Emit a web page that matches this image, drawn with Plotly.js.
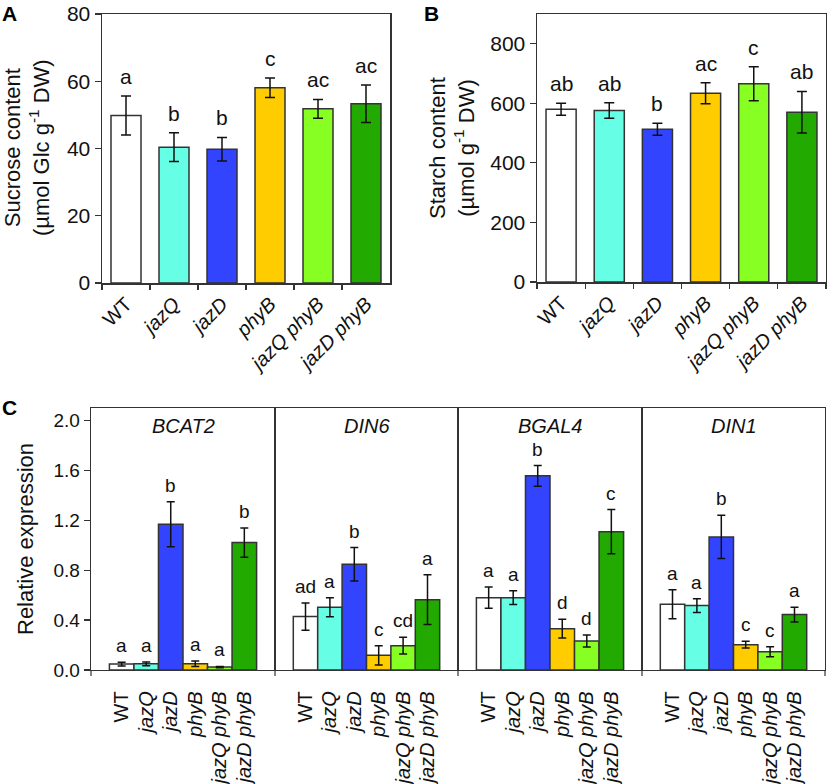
<!DOCTYPE html>
<html>
<head>
<meta charset="utf-8">
<script src="https://cdn.plot.ly/plotly-3.0.1.min.js"></script>
<style>
  body { margin: 0; background: #fff; }
  #chart { width: 827px; height: 784px; }
</style>
</head>
<body>
<div id="chart"></div>
<script>
// genotypes and colours shared by every panel
const genotypes = ['WT', 'jazQ', 'jazD', 'phyB', 'jazQ phyB', 'jazD phyB'];
const genotypeLabels = ['WT', '<i>jazQ</i>', '<i>jazD</i>', '<i>phyB</i>', '<i>jazQ phyB</i>', '<i>jazD phyB</i>'];
const barColors = ['#ffffff', '#66ffe6', '#3344ff', '#ffcc00', '#88ff22', '#22aa00'];

// A: sucrose
const sucrose = [49.8, 40.4, 39.8, 58.1, 51.8, 53.3];
const sucroseErr = [5.8, 4.3, 3.5, 2.9, 2.8, 5.6];
const sucroseLetters = ['a', 'b', 'b', 'c', 'ac', 'ac'];

// B: starch
const starch = [580, 576, 513, 634, 666, 570];
const starchErr = [20, 26, 20, 35, 57, 70];
const starchLetters = ['ab', 'ab', 'b', 'ac', 'c', 'ab'];

// C: relative expression
const genes = ['BCAT2', 'DIN6', 'BGAL4', 'DIN1'];
const bcat2 = [0.048, 0.05, 1.168, 0.05, 0.024, 1.021];
const bcat2Err = [0.015, 0.015, 0.18, 0.022, 0.005, 0.118];
const bcat2Letters = ['a', 'a', 'b', 'a', 'a', 'b'];
const din6 = [0.428, 0.503, 0.847, 0.118, 0.195, 0.564];
const din6Err = [0.11, 0.077, 0.134, 0.077, 0.067, 0.2];
const din6Letters = ['ad', 'a', 'b', 'c', 'cd', 'a'];
const bgal4 = [0.58, 0.58, 1.556, 0.331, 0.233, 1.109];
const bgal4Err = [0.086, 0.056, 0.083, 0.075, 0.048, 0.177];
const bgal4Letters = ['a', 'a', 'b', 'd', 'd', 'c'];
const din1 = [0.527, 0.516, 1.067, 0.203, 0.147, 0.444];
const din1Err = [0.117, 0.056, 0.173, 0.027, 0.04, 0.059];
const din1Letters = ['a', 'a', 'b', 'c', 'c', 'a'];

const FONT = 'Liberation Sans, Arial, sans-serif';
const LINE = '#333333';

function barTrace(vals, errs, xa, ya, width, capw) {
  return {
    type: 'bar', x: genotypes, y: vals, xaxis: xa, yaxis: ya, width: width,
    marker: { color: barColors, line: { color: LINE, width: 1.5 } },
    error_y: { type: 'data', array: errs, visible: true, color: '#111', thickness: 1.5, width: capw },
    hoverinfo: 'skip', showlegend: false
  };
}

// significance letters sit just above each error bar
function letterNotes(vals, errs, letters, xa, ya, size, shift) {
  return letters.map((t, i) => ({
    xref: xa, yref: ya, x: genotypes[i], y: vals[i] + errs[i],
    text: t, showarrow: false, xanchor: 'center', yanchor: 'bottom', yshift: shift,
    font: { family: FONT, size: size, color: '#111' }
  }));
}

const exprVals = [bcat2, din6, bgal4, din1];
const exprErrs = [bcat2Err, din6Err, bgal4Err, din1Err];
const exprLetters = [bcat2Letters, din6Letters, bgal4Letters, din1Letters];

const traces = [
  barTrace(sucrose, sucroseErr, 'x', 'y', 0.625, 5),
  barTrace(starch, starchErr, 'x2', 'y2', 0.625, 5)
];
let notes = letterNotes(sucrose, sucroseErr, sucroseLetters, 'x', 'y', 21, 6)
  .concat(letterNotes(starch, starchErr, starchLetters, 'x2', 'y2', 21, 6));
genes.forEach((g, i) => {
  const xa = 'x' + (i + 3), ya = 'y' + (i + 3);
  traces.push(barTrace(exprVals[i], exprErrs[i], xa, ya, 1, 4));
  notes = notes.concat(letterNotes(exprVals[i], exprErrs[i], exprLetters[i], xa, ya, 19, 4));
});

const W = 827, H = 784;
const px = v => v / W, py = v => 1 - v / H;

const catAxis = (domain, anchor) => ({
  domain: domain, anchor: anchor, type: 'category',
  showline: true, mirror: true, linecolor: LINE, linewidth: 1.5,
  ticks: 'outside', tickson: 'boundaries', ticklen: 5, tickcolor: LINE, tickwidth: 1.2,
  tickvals: genotypes, ticktext: genotypeLabels, tickangle: -45,
  tickfont: { family: FONT, size: 20, color: '#111' },
  showgrid: false, zeroline: false, automargin: false
});

const valAxis = (domain, anchor, range, vals) => ({
  domain: domain, anchor: anchor, range: range, tickvals: vals,
  showline: true, mirror: true, linecolor: LINE, linewidth: 1.5,
  ticks: 'outside', ticklen: 6, tickcolor: LINE, tickwidth: 1.2,
  tickfont: { family: FONT, size: 21, color: '#111' },
  showgrid: false, zeroline: false, automargin: false
});

const layout = {
  width: W, height: H,
  margin: { l: 0, r: 0, t: 0, b: 0 },
  paper_bgcolor: '#fff', plot_bgcolor: '#fff',
  font: { family: FONT, color: '#111' },
  showlegend: false,
  xaxis: catAxis([px(102), px(390)], 'y'),
  yaxis: valAxis([py(283), py(14)], 'x', [0, 80], [0, 20, 40, 60, 80]),
  xaxis2: catAxis([px(537), px(826)], 'y2'),
  yaxis2: valAxis([py(282), py(14)], 'x2', [0, 900], [0, 200, 400, 600, 800]),
  annotations: notes,
  shapes: []
};

const cEdges = [91, 275, 458, 642, 825];
genes.forEach((g, i) => {
  const n = i + 3;
  layout['xaxis' + n] = {
    domain: [px(cEdges[i]), px(cEdges[i + 1])], anchor: 'y' + n, type: 'category',
    range: [-1.25, 6.25],
    showline: true, mirror: true, linecolor: LINE, linewidth: 1.3,
    ticks: '', tickvals: genotypes, ticktext: genotypeLabels, tickangle: -90,
    ticklabelstandoff: 12,
    tickfont: { family: FONT, size: 20, color: '#111' },
    showgrid: false, zeroline: false, automargin: false
  };
  layout['yaxis' + n] = {
    domain: [py(670), py(408)], anchor: 'x' + n, range: [0, 2.1],
    tickvals: [0, 0.4, 0.8, 1.2, 1.6, 2.0], tickformat: '.1f',
    showline: true, mirror: true, linecolor: LINE, linewidth: 1.3,
    ticks: i === 0 ? 'outside' : '', ticklen: 6, tickcolor: LINE, tickwidth: 1.2,
    showticklabels: i === 0,
    tickfont: { family: FONT, size: 19, color: '#111' },
    showgrid: false, zeroline: false, automargin: false
  };
  if (i > 0) layout['yaxis' + n].matches = 'y3';
  // gene name
  layout.annotations.push({
    xref: 'x' + n + ' domain', yref: 'paper', x: 0.5, y: py(426),
    text: '<i>' + g + '</i>', showarrow: false, xanchor: 'center', yanchor: 'middle',
    font: { family: FONT, size: 20, color: '#111' }
  });
});
// small boundary ticks under panel C
cEdges.forEach(e => {
  layout.shapes.push({
    type: 'line', xref: 'paper', yref: 'paper',
    x0: px(e), x1: px(e), y0: py(670), y1: py(676),
    line: { color: LINE, width: 1.2 }
  });
});

// axis titles and panel letters
layout.annotations.push(
  { xref: 'paper', yref: 'paper', x: px(27), y: py(148), textangle: -90, showarrow: false,
    text: 'Sucrose content<br>(µmol Glc g<sup>-1</sup> DW)', xanchor: 'center', yanchor: 'middle',
    font: { family: FONT, size: 22, color: '#111' } },
  { xref: 'paper', yref: 'paper', x: px(452), y: py(148), textangle: -90, showarrow: false,
    text: 'Starch content<br>(µmol g<sup>-1</sup> DW)', xanchor: 'center', yanchor: 'middle',
    font: { family: FONT, size: 22, color: '#111' } },
  { xref: 'paper', yref: 'paper', x: px(25), y: py(539), textangle: -90, showarrow: false,
    text: 'Relative expression', xanchor: 'center', yanchor: 'middle',
    font: { family: FONT, size: 22, color: '#111' } },
  { xref: 'paper', yref: 'paper', x: px(0), y: py(0), text: '<b>A</b>', showarrow: false,
    xanchor: 'left', yanchor: 'top', font: { family: FONT, size: 21, color: '#000' } },
  { xref: 'paper', yref: 'paper', x: px(422), y: py(0), text: '<b>B</b>', showarrow: false,
    xanchor: 'left', yanchor: 'top', font: { family: FONT, size: 21, color: '#000' } },
  { xref: 'paper', yref: 'paper', x: px(0), y: py(394), text: '<b>C</b>', showarrow: false,
    xanchor: 'left', yanchor: 'top', font: { family: FONT, size: 21, color: '#000' } }
);

Plotly.newPlot('chart', traces, layout, { staticPlot: true });
</script>
</body>
</html>
